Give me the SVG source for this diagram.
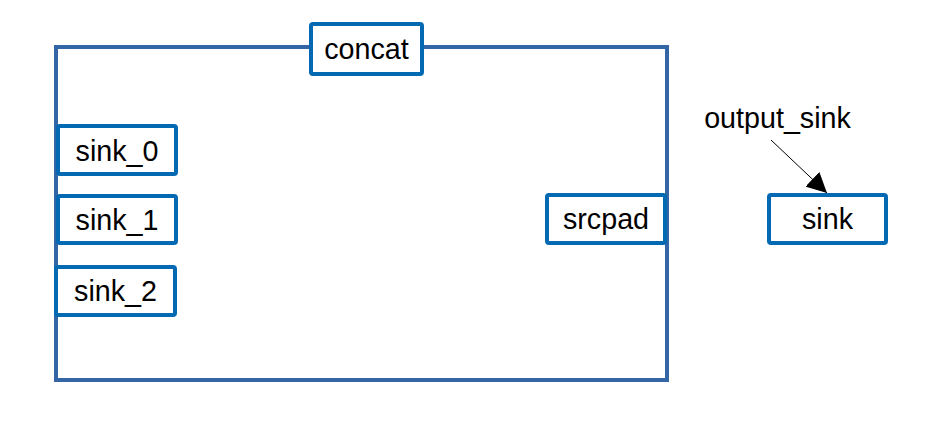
<svg xmlns="http://www.w3.org/2000/svg" width="930" height="438" viewBox="0 0 930 438">
<style>
.frame{fill:none;stroke:#3465a4;stroke-width:4}
.box{fill:#fff;stroke:#0369b3;stroke-width:4}
.lbl{font-family:"Liberation Sans",Arial,sans-serif;font-size:28.7px;fill:#000;text-anchor:middle}
.conn{stroke:#000;stroke-width:1;fill:none}
</style>
<defs>
<marker id="ah" viewBox="0 0 10 10" refX="10" refY="5" markerWidth="20" markerHeight="20" markerUnits="userSpaceOnUse" orient="auto">
<path d="M0,0 L10,5 L0,10 z" fill="#000"/>
</marker>
</defs>
<g id="concat-frame">
<rect class="frame" x="56" y="47" width="611" height="333"/>
</g>
<g id="concat">
<rect class="box" x="311" y="24" width="111" height="50" rx="2"/>
<text class="lbl" x="366.5" y="58.5">concat</text>
</g>
<g id="sink_0">
<rect class="box" x="58" y="126" width="118" height="48" rx="2"/>
<text class="lbl" x="117" y="160.5">sink_0</text>
</g>
<g id="sink_1">
<rect class="box" x="58" y="196" width="118" height="47" rx="2"/>
<text class="lbl" x="117" y="229.5">sink_1</text>
</g>
<g id="sink_2">
<rect class="box" x="56" y="267" width="119" height="48" rx="2"/>
<text class="lbl" x="115.5" y="301">sink_2</text>
</g>
<g id="srcpad">
<rect class="box" x="547" y="195" width="118" height="48" rx="2"/>
<text class="lbl" x="606" y="229">srcpad</text>
</g>
<g id="sink">
<rect class="box" x="769" y="195" width="117" height="48" rx="2"/>
<text class="lbl" x="827.5" y="229">sink</text>
</g>
<g id="output_sink">
<text class="lbl" x="777.5" y="127.5">output_sink</text>
</g>
<g id="connectors">
<line class="conn" x1="771" y1="140" x2="827" y2="193" marker-end="url(#ah)"/>
</g>
</svg>
